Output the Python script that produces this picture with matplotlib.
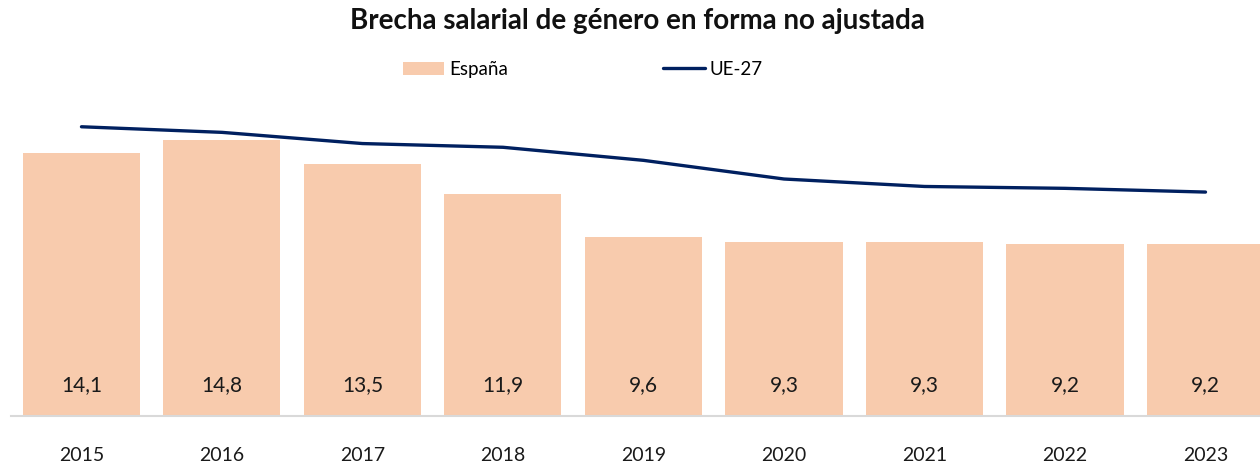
import matplotlib.pyplot as plt
import numpy as np

plt.rcParams['font.family'] = ['Lato', 'DejaVu Sans']

# datos (%)
years = ['2015', '2016', '2017', '2018', '2019', '2020', '2021', '2022', '2023']
espana = [14.1, 14.8, 13.5, 11.9, 9.6, 9.3, 9.3, 9.2, 9.2]
ue27 = [15.5, 15.2, 14.6, 14.4, 13.7, 12.7, 12.3, 12.2, 12.0]

BAR_COLOR = '#F8CBAD'
LINE_COLOR = '#002060'

fig = plt.figure(figsize=(12.6, 4.62), dpi=100)
# the category area runs a bit past the right edge, like the original
ax = fig.add_axes([0.0089, 0.0996, 1.0036, 0.727])

x = np.arange(len(years))
bars = ax.bar(x, espana, width=0.833, color=BAR_COLOR, label='España', zorder=2)
line, = ax.plot(x, ue27, color=LINE_COLOR, lw=2.4, solid_capstyle='round',
                label='UE-27', zorder=3)

# valores dentro de las barras
for xi, v in zip(x, espana):
    ax.text(xi, 1.66, f'{v:.1f}'.replace('.', ','), ha='center', va='center',
            fontsize=15, color='#1a1a1a')

ax.set_xlim(-0.5, len(years) - 0.5)
ax.set_ylim(0, 18)
ax.set_xticks(x)
ax.set_xticklabels(years, fontsize=14, color='#1a1a1a')
ax.tick_params(axis='x', length=0, pad=22)
ax.set_yticks([])

for s in ['top', 'right', 'left']:
    ax.spines[s].set_visible(False)
ax.spines['bottom'].set_color('#D9D9D9')
ax.spines['bottom'].set_linewidth(1.5)

fig.text(0.506, 0.955, 'Brecha salarial de género en forma no ajustada',
         ha='center', va='center', fontsize=20, fontweight='bold', color='#111111')

fig.legend([bars, line], ['España', 'UE-27'], loc='center',
           bbox_to_anchor=(0.4625, 0.85), ncol=2, frameon=False,
           fontsize=13.5, handlelength=2.2, handleheight=0.7, handletextpad=0.25,
           columnspacing=8.3)

fig.savefig('out.png', dpi=100)
